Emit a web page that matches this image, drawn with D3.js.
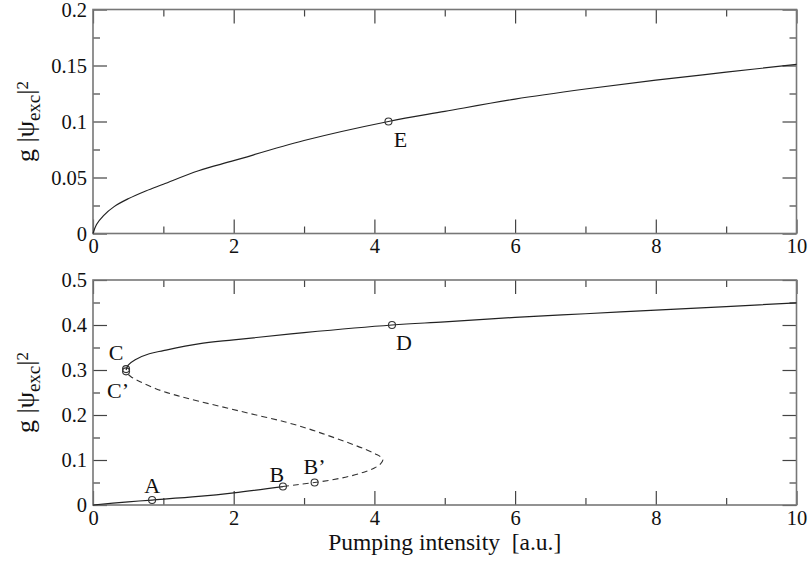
<!DOCTYPE html>
<html>
<head>
<meta charset="utf-8">
<script src="https://cdn.jsdelivr.net/npm/d3@7"></script>
<style>
  html, body { margin: 0; padding: 0; background: #fff; }
  svg { display: block; }
  text { font-family: "Liberation Serif", "Times New Roman", serif; fill: #111; }
</style>
</head>
<body>
<svg id="chart" width="809" height="561"></svg>
<script>
// Pumping intensity (x) vs condensate density g|psi_exc|^2 (y)

// Upper panel: single branch
const topCurve = [
  [0, 0], [0.05, 0.008], [0.15, 0.016], [0.3, 0.024], [0.5, 0.031], [0.75, 0.038],
  [1, 0.044], [1.5, 0.056], [2, 0.065], [3, 0.083], [4.2, 0.1], [5, 0.109],
  [6, 0.12], [7, 0.129], [8, 0.137], [9, 0.144], [10, 0.151]
];
const topPoints = [{ name: "E", x: 4.2, y: 0.1 }];

// Lower panel: bistable S-shaped response
const upperBranch = [
  [0.47, 0.300], [0.5, 0.311], [0.6, 0.323], [0.8, 0.336], [1.0, 0.343], [1.5, 0.358],
  [2, 0.367], [3, 0.383], [4.25, 0.4], [5, 0.407], [6, 0.417], [7, 0.425],
  [8, 0.433], [9, 0.441], [10, 0.449]
];
const lowerBranch = [
  [0, 0], [0.5, 0.007], [0.84, 0.011], [1.5, 0.019], [2, 0.027], [2.7, 0.041]
];
const dashedBranch = [
  [2.7, 0.041], [2.9, 0.045], [3.15, 0.050], [3.4, 0.056], [3.65, 0.064], [3.85, 0.073],
  [4.0, 0.082], [4.09, 0.092], [4.12, 0.100], [4.08, 0.108], [4.02, 0.113], [3.85, 0.125],
  [3.6, 0.140], [3.33, 0.155], [3.05, 0.170], [2.72, 0.185], [2.32, 0.200], [1.92, 0.215],
  [1.52, 0.230], [1.2, 0.243], [0.9, 0.258], [0.67, 0.274], [0.54, 0.285], [0.47, 0.295]
];
const bottomPoints = [
  { name: "A", x: 0.84, y: 0.011 },
  { name: "B", x: 2.7, y: 0.041 },
  { name: "B\u2019", x: 3.15, y: 0.050 },
  { name: "C", x: 0.47, y: 0.302 },
  { name: "C\u2019", x: 0.47, y: 0.297 },
  { name: "D", x: 4.25, y: 0.4 }
];

const xTicks = [0, 2, 4, 6, 8, 10];
const xMinor = [1, 3, 5, 7, 9];
const topYTicks = [0, 0.05, 0.1, 0.15, 0.2];
const topYMinor = [0.025, 0.075, 0.125, 0.175];
const botYTicks = [0, 0.1, 0.2, 0.3, 0.4, 0.5];
const botYMinor = [0.05, 0.15, 0.25, 0.35, 0.45];

const xTitle = "Pumping intensity  [a.u.]";

const svg = d3.select("#chart");
const left = 93, right = 796.5;

const x = d3.scaleLinear().domain([0, 10]).range([left, right]);

// label offsets (dx, baseline dy) relative to each marker
const labelPos = {
  "E": [12, 25], "D": [12, 25], "A": [0, -7], "B": [-6, -5], "B\u2019": [0, -9],
  "C": [-10, -9], "C\u2019": [-8, 27]
};

function panel(top, bottom, yMax, yTicks, yMinor, yFmt) {
  const y = d3.scaleLinear().domain([0, yMax]).range([bottom, top]);
  const g = svg.append("g");

  const fmt = d => d === 0 ? "0" : yFmt(d);
  const styleAxis = sel => {
    sel.attr("font-family", null).attr("font-size", null);
    sel.select(".domain").remove();
    sel.selectAll("line").attr("stroke", "#444").attr("stroke-width", 1.2);
    sel.selectAll("text").attr("font-size", 20.5).attr("fill", "#111");
  };

  // bottom
  g.append("g").attr("transform", `translate(0,${bottom})`)
    .call(d3.axisBottom(x).tickValues(xTicks).tickSize(-14).tickPadding(5).tickFormat(d3.format("d")))
    .call(styleAxis);
  g.append("g").attr("transform", `translate(0,${bottom})`)
    .call(d3.axisBottom(x).tickValues(xMinor).tickSize(-7).tickFormat(""))
    .call(styleAxis);
  // top mirror
  g.append("g").attr("transform", `translate(0,${top})`)
    .call(d3.axisTop(x).tickValues(xTicks).tickSize(-14).tickFormat(""))
    .call(styleAxis);
  g.append("g").attr("transform", `translate(0,${top})`)
    .call(d3.axisTop(x).tickValues(xMinor).tickSize(-7).tickFormat(""))
    .call(styleAxis);
  // left
  g.append("g").attr("transform", `translate(${left},0)`)
    .call(d3.axisLeft(y).tickValues(yTicks).tickSize(-14).tickPadding(6).tickFormat(fmt))
    .call(styleAxis);
  g.append("g").attr("transform", `translate(${left},0)`)
    .call(d3.axisLeft(y).tickValues(yMinor).tickSize(-7).tickFormat(""))
    .call(styleAxis);
  // right mirror
  g.append("g").attr("transform", `translate(${right},0)`)
    .call(d3.axisRight(y).tickValues(yTicks).tickSize(-14).tickFormat(""))
    .call(styleAxis);
  g.append("g").attr("transform", `translate(${right},0)`)
    .call(d3.axisRight(y).tickValues(yMinor).tickSize(-7).tickFormat(""))
    .call(styleAxis);

  // frame
  g.append("rect")
    .attr("x", left).attr("y", top)
    .attr("width", right - left).attr("height", bottom - top)
    .attr("fill", "none").attr("stroke", "#777").attr("stroke-width", 1.6);

  // y title: g |psi_exc|^2
  const t = g.append("text")
    .attr("transform", `translate(34,${(top + bottom) / 2}) rotate(-90)`)
    .attr("text-anchor", "middle")
    .attr("font-size", 26);
  t.append("tspan").text("g |\u03C8");
  t.append("tspan").attr("font-size", 19).attr("dy", 6).text("exc");
  t.append("tspan").attr("dy", -6).text("|");
  t.append("tspan").attr("font-size", 17).attr("dy", -6).text("2");

  return { g, y };
}

const line = (y) => d3.line().x(d => x(d[0])).y(d => y(d[1])).curve(d3.curveCatmullRom.alpha(0.5));

function markers(g, y, pts) {
  g.selectAll(null).data(pts).enter().append("circle")
    .attr("cx", d => x(d.x)).attr("cy", d => y(d.y)).attr("r", 3.5)
    .attr("fill", "none").attr("stroke", "#333").attr("stroke-width", 1.1);
  g.selectAll(null).data(pts).enter().append("text")
    .attr("x", d => x(d.x) + labelPos[d.name][0])
    .attr("y", d => y(d.y) + labelPos[d.name][1])
    .attr("text-anchor", "middle")
    .attr("font-size", 22)
    .text(d => d.name);
}

// upper panel
const p1 = panel(9.5, 233.5, 0.2, topYTicks, topYMinor, d3.format(".2~f"));
p1.g.append("path").attr("d", line(p1.y)(topCurve))
  .attr("fill", "none").attr("stroke", "#222").attr("stroke-width", 1.2);
markers(p1.g, p1.y, topPoints);

// lower panel
const p2 = panel(280, 505, 0.5, botYTicks, botYMinor, d3.format(".1f"));
p2.g.append("path").attr("d", line(p2.y)(upperBranch))
  .attr("fill", "none").attr("stroke", "#222").attr("stroke-width", 1.2);
p2.g.append("path").attr("d", line(p2.y)(lowerBranch))
  .attr("fill", "none").attr("stroke", "#222").attr("stroke-width", 1.2);
p2.g.append("path").attr("d", line(p2.y)(dashedBranch))
  .attr("fill", "none").attr("stroke", "#333").attr("stroke-width", 1.1)
  .attr("stroke-dasharray", "6,4");
markers(p2.g, p2.y, bottomPoints);

// x title
svg.append("text")
  .attr("x", (left + right) / 2).attr("y", 550)
  .attr("text-anchor", "middle").attr("font-size", 23.5)
  .style("white-space", "pre")
  .text(xTitle);
</script>
</body>
</html>
